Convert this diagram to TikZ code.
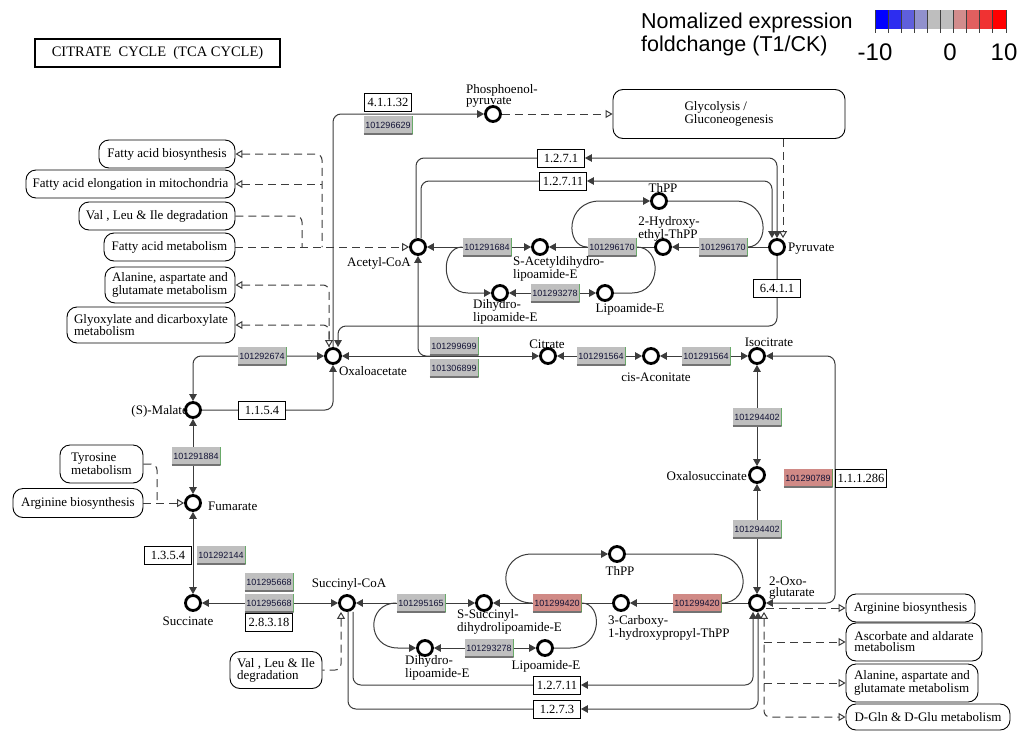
\documentclass[tikz,border=0pt]{standalone}
\usepackage{fontspec}
\setmainfont{Liberation Serif}
\newfontfamily\gsans{Liberation Sans}
\usetikzlibrary{arrows.meta}
\pgfdeclarelayer{bg}
\pgfsetlayers{bg,main}
\definecolor{ggray}{RGB}{191,191,191}
\definecolor{gred}{RGB}{208,138,134}
\definecolor{gtext}{RGB}{20,20,55}
\definecolor{lcol}{RGB}{60,60,60}
\definecolor{gedge}{RGB}{60,160,60}
\newcommand\kf{\fontsize{13}{11}\selectfont}
\newcommand\ef{\fontsize{12.5}{13}\selectfont}
\newcommand\gf{\gsans\fontsize{9}{10}\selectfont}
\tikzset{
  ktri/.tip={Triangle[length=7pt,width=7.5pt]},
  kotri/.tip={Triangle[open,length=7pt,width=8pt,fill=white]},
  cpd/.style={circle,draw=black,line width=2.8pt,fill=white,minimum size=15pt,inner sep=0pt},
  gene/.style={rectangle,fill=ggray,minimum width=49pt,minimum height=18pt,inner sep=0pt,font=\gf,text=gtext,
    path picture={
      \draw[black!55,line width=1.6pt] (path picture bounding box.south west) -- (path picture bounding box.south east);
      \draw[gedge,line width=1.6pt] (path picture bounding box.north east) -- (path picture bounding box.south east);}},
  rgene/.style={gene,fill=gred},
  enz/.style={rectangle,draw=black,line width=0.8pt,fill=white,minimum width=47pt,minimum height=18pt,inner xsep=2pt,inner ysep=0pt,font=\ef},
  pw/.style={rectangle,rounded corners=10pt,draw=black,line width=0.9pt,fill=white,inner sep=0pt,align=left,font=\kf},
  lbl/.style={inner sep=0pt,font=\kf,align=left},
  ln/.style={draw=lcol,line width=1pt},
  dl/.style={draw=lcol,line width=1pt,dash pattern=on 8pt off 5pt},
}
\begin{document}
\begin{tikzpicture}[x=1pt,y=-1pt]
\useasboundingbox (0,0) rectangle (1027,731);
% title
\node[draw=black,line width=1.8pt,minimum width=245pt,minimum height=28pt,inner sep=0pt,font=\fontsize{14.5}{16}\selectfont] (title) at (157.5,53) {CITRATE\ \ CYCLE\ \ (TCA CYCLE)};
% legend
\node[anchor=base west,inner sep=0pt,font=\gsans\fontsize{21.5}{24}\selectfont] (lg1) at (641,28) {Nomalized expression};
\node[anchor=base west,inner sep=0pt,font=\gsans\fontsize{21.5}{24}\selectfont] (lg2) at (641,51) {foldchange (T1/CK)};
\foreach \cR/\cG/\cB [count=\i from 0] in {0/0/255,45/45/240,95/95/220,145/145/205,190/190/190,190/190/190,210/140/140,225/95/95,240/50/50,255/0/0}
  {\definecolor{legc}{RGB}{\cR,\cG,\cB}\fill[legc] (875+13.1*\i,10) rectangle ++(13.1,19);}
\foreach \i in {0,...,10} \draw[black!75,line width=1pt] (875+13.1*\i,10) -- ++(0,23);
\node[anchor=base,inner sep=0pt,font=\gsans\fontsize{24}{26}\selectfont] (lgm) at (875,60) {-10};
\node[anchor=base,inner sep=0pt,font=\gsans\fontsize{24}{26}\selectfont] (lgz) at (950,60) {0};
\node[anchor=base,inner sep=0pt,font=\gsans\fontsize{24}{26}\selectfont] (lgp) at (1004,60) {10};
% compounds
\node[cpd] (pep) at (493,114) {};
\node[cpd] (acoa) at (418,247) {};
\node[cpd] (pyr) at (777,247) {};
\node[cpd] (thpp1) at (659,201) {};
\node[cpd] (het) at (663,247) {};
\node[cpd] (sad) at (540,247) {};
\node[cpd] (dhl1) at (500,293) {};
\node[cpd] (lip1) at (605,293) {};
\node[cpd] (oaa) at (333,356) {};
\node[cpd] (cit) at (548,356) {};
\node[cpd] (cis) at (651,356) {};
\node[cpd] (icit) at (757,356) {};
\node[cpd] (oxs) at (757,475) {};
\node[cpd] (akg) at (757,603) {};
\node[cpd] (thpp2) at (617,554) {};
\node[cpd] (chp) at (621,603) {};
\node[cpd] (ssd) at (484,603) {};
\node[cpd] (dhl2) at (425,648) {};
\node[cpd] (lip2) at (545,648) {};
\node[cpd] (scoa) at (347,603) {};
\node[cpd] (succ) at (193,603) {};
\node[cpd] (fum) at (193,503) {};
\node[cpd] (mal) at (193,410) {};
% compound labels
\node[lbl,anchor=west] (lpep) at (466,96) {Phosphoenol-\\pyruvate};
\node[lbl] (lacoa) at (379,263) {Acetyl-CoA};
\node[lbl,anchor=west] (lpyr) at (788,249) {Pyruvate};
\node[lbl] (lthpp1) at (663,188) {ThPP};
\node[lbl] (lhet) at (669,229) {2-Hydroxy-\\ethyl-ThPP};
\node[lbl,anchor=west] (lsad) at (513,269) {S-Acetyldihydro-\\lipoamide-E};
\node[lbl,anchor=west] (ldhl1) at (473,312) {Dihydro-\\lipoamide-E};
\node[lbl] (llip1) at (630,309) {Lipoamide-E};
\node[lbl] (lcit) at (547,344) {Citrate};
\node[lbl] (lcis) at (656,377) {cis-Aconitate};
\node[lbl] (licit) at (769,342) {Isocitrate};
\node[lbl] (loaa) at (373,371) {Oxaloacetate};
\node[lbl,anchor=east] (lmal) at (188,411) {(S)-Malate};
\node[lbl,anchor=west] (lfum) at (208,506) {Fumarate};
\node[lbl] (lsucc) at (188,621) {Succinate};
\node[lbl] (lscoa) at (349,584) {Succinyl-CoA};
\node[lbl,anchor=west] (lssd) at (457,622) {S-Succinyl-\\dihydrolipoamide-E};
\node[lbl,anchor=west] (ldhl2) at (405,668) {Dihydro-\\lipoamide-E};
\node[lbl] (llip2) at (546,666) {Lipoamide-E};
\node[lbl] (lthpp2) at (620,571) {ThPP};
\node[lbl,anchor=west] (lchp) at (608,628) {3-Carboxy-\\1-hydroxypropyl-ThPP};
\node[lbl,anchor=west] (lakg) at (769,588) {2-Oxo-\\glutarate};
\node[lbl,anchor=east] (loxs) at (747,476) {Oxalosuccinate};
% genes
\node[gene] (g1) at (388,125) {101296629};
\node[gene] (g2) at (487,247) {101291684};
\node[gene] (g3) at (612,247) {101296170};
\node[gene] (g4) at (723,247) {101296170};
\node[gene] (g5) at (555,293) {101293278};
\node[gene] (g6) at (454,346) {101299699};
\node[gene] (g7) at (454,368) {101306899};
\node[gene] (g8) at (601,356) {101291564};
\node[gene] (g9) at (706,356) {101291564};
\node[gene] (g10) at (262,356) {101292674};
\node[gene] (g11) at (757,417) {101294402};
\node[rgene] (g12) at (808,478) {101290789};
\node[gene] (g13) at (196,456) {101291884};
\node[gene] (g14) at (757,529) {101294402};
\node[gene] (g15) at (221,555) {101292144};
\node[gene] (g16) at (269,582) {101295668};
\node[gene] (g17) at (269,603) {101295668};
\node[gene] (g18) at (421,603) {101295165};
\node[rgene] (g19) at (557,603) {101299420};
\node[rgene] (g20) at (697,603) {101299420};
\node[gene] (g21) at (489,648) {101293278};
% enzymes
\node[enz] (e1) at (388,102) {4.1.1.32};
\node[enz] (e2) at (561,158) {1.2.7.1};
\node[enz] (e3) at (563,181) {1.2.7.11};
\node[enz] (e4) at (777,288) {6.4.1.1};
\node[enz] (e5) at (262,410) {1.1.5.4};
\node[enz] (e6) at (861,478) {1.1.1.286};
\node[enz] (e7) at (168,555) {1.3.5.4};
\node[enz] (e8) at (269,622) {2.8.3.18};
\node[enz] (e9) at (557,685) {1.2.7.11};
\node[enz] (e10) at (557,709) {1.2.7.3};
% pathway maps
\node[pw,minimum width=136pt,minimum height=28pt] (fab) at (167,154) {Fatty acid biosynthesis};
\node[pw,minimum width=209pt,minimum height=28pt] (fae) at (130.5,184) {Fatty acid elongation in mitochondria};
\node[pw,minimum width=156pt,minimum height=28pt] (vli1) at (157,216) {Val , Leu \& Ile degradation};
\node[pw,minimum width=131pt,minimum height=28pt] (fam) at (169.5,247) {Fatty acid metabolism};
\node[pw,minimum width=130pt,minimum height=36pt] (alaL) at (170,285) {Alanine, aspartate and\\glutamate metabolism};
\node[pw,minimum width=168pt,minimum height=36pt] (gly) at (151,325) {Glyoxylate and dicarboxylate\\metabolism};
\node[pw,minimum width=83pt,minimum height=38pt] (tyr) at (101.5,464) {Tyrosine\\metabolism};
\node[pw,minimum width=130pt,minimum height=29pt] (argL) at (78,503) {Arginine biosynthesis};
\node[pw,minimum width=92pt,minimum height=37pt] (vli2) at (276,670) {Val , Leu \& Ile\\degradation};
\node[pw,minimum width=232pt,minimum height=49pt] (glyc) at (729,114) {Glycolysis /\\Gluconeogenesis};
\node[pw,minimum width=129pt,minimum height=28pt] (argR) at (910.5,608) {Arginine biosynthesis};
\node[pw,minimum width=136pt,minimum height=38pt] (asc) at (914,642) {Ascorbate and aldarate\\metabolism};
\node[pw,minimum width=132pt,minimum height=38pt] (alaR) at (912,683) {Alanine, aspartate and\\glutamate metabolism};
\node[pw,minimum width=164pt,minimum height=26pt] (dglu) at (928,717) {D-Gln \& D-Glu metabolism};
% helper coordinates
\coordinate (acoaT1) at ([xshift=-2pt]acoa.north);
\coordinate (acoaT2) at ([xshift=3pt]acoa.north);
\coordinate (pyrT1) at (pyr.north);
\coordinate (pyrT2) at ([xshift=-5pt]pyr.north);
\coordinate (pyrT3) at ([xshift=6pt]pyr.north);
\coordinate (oaaT1) at ([xshift=-4pt]oaa.north);
\coordinate (oaaT2) at ([xshift=5pt]oaa.north);
\coordinate (r641) at (777,326);
\coordinate (m1) at (432,356);
\coordinate (faj) at (322,247);
\coordinate (vlj) at (302,247);
\coordinate (tyj) at (157,503);
\coordinate (rr) at (835,480);
\coordinate (scoaB1) at ([xshift=6pt]scoa.south);
\coordinate (scoaB2) at ([xshift=1pt]scoa.south);
\coordinate (scoaB3) at ([xshift=-6pt]scoa.south);
\coordinate (akgB1) at ([xshift=-4pt]akg.south);
\coordinate (akgB2) at ([xshift=1pt]akg.south);
\coordinate (akgB3) at ([xshift=7pt]akg.south);
\begin{pgfonlayer}{bg}
% top
\draw[ln,rounded corners=8pt,-{ktri}] (oaa.north) -- (oaa.north |- pep) -- (pep);
\draw[dl,-{kotri}] (pep) -- (glyc);
\draw[dl,-{kotri}] (pyrT3 |- glyc.south) -- (pyrT3);
\draw[ln,rounded corners=8pt,{ktri}-{ktri}] (acoaT1) |- (e2) -| (pyrT1);
\draw[ln,rounded corners=8pt,{ktri}-{ktri}] (acoaT2) |- (e3) -| (pyrT2);
\draw[ln,rounded corners=8pt,-{ktri}] (pyr.south) -- (r641) -| (oaaT2);
% pyruvate dehydrogenase complex
\draw[ln,{ktri}-{ktri}] (acoa) -- (sad);
\draw[ln,-{ktri}] (het) -- (sad);
\draw[ln,-{ktri}] (pyr) -- (het);
\draw[ln,-{ktri}] (g2.west) .. controls (440,247) and (440,293) .. (468,293) -- (dhl1);
\draw[ln,{ktri}-{ktri}] (dhl1) -- (lip1);
\draw[ln] (lip1) -- (632,293) .. controls (662,293) and (662,247) .. (g3.east);
\draw[ln,-{ktri}] (g3.west) .. controls (565,247) and (565,201) .. (600,201) -- (thpp1);
\draw[ln] (thpp1) -- (735,201) .. controls (770,201) and (770,247) .. (g4.east);
% dashed links at acetyl-CoA and oxaloacetate
\draw[dl,-{kotri}] (fam) -- (acoa);
\draw[dl,{kotri}-,rounded corners=6pt] (fab) -| (faj);
\draw[dl,{kotri}-] (fae) -- (fae -| faj);
\draw[dl,rounded corners=6pt] (vli1) -| (vlj);
\draw[dl,{kotri}-{kotri},rounded corners=6pt] (alaL) -| (oaaT1);
\draw[dl,{kotri}-,rounded corners=6pt] (gly) -| (oaaT1);
% middle row
\draw[ln,{ktri}-{ktri}] (oaa) -- (cit);
\draw[ln,rounded corners=8pt,{ktri}-] (acoa.south) |- (m1);
\draw[ln,{ktri}-{ktri}] (cit) -- (cis);
\draw[ln,{ktri}-{ktri}] (cis) -- (icit);
\draw[ln,rounded corners=8pt,{ktri}-{ktri}] (oaa) -| (mal);
\draw[ln,rounded corners=8pt,-{ktri}] (mal) -| (oaa);
% left column
\draw[ln,{ktri}-{ktri}] (mal) -- (fum);
\draw[ln,{ktri}-{ktri}] (fum) -- (succ);
\draw[ln,{ktri}-{ktri}] (succ) -- (scoa);
\draw[dl,rounded corners=6pt] (tyr) -| (tyj);
\draw[dl,-{kotri}] (argL) -- (fum);
% bottom row
\draw[ln,{ktri}-{ktri}] (scoa) -- (ssd);
\draw[ln,-{ktri}] (chp) -- (ssd);
\draw[ln,-{ktri}] (akg) -- (chp);
\draw[ln,-{ktri}] (g18.west) .. controls (366,603) and (366,648) .. (398,648) -- (dhl2);
\draw[ln,{ktri}-{ktri}] (dhl2) -- (lip2);
\draw[ln] (lip2) -- (570,648) .. controls (603,648) and (603,603) .. (g19.east);
\draw[ln,-{ktri}] (g19.west) .. controls (497,603) and (497,554) .. (532,554) -- (thpp2);
\draw[ln] (thpp2) -- (710,554) .. controls (752,554) and (752,603) .. (g20.east);
\draw[ln,rounded corners=8pt,{ktri}-{ktri}] (scoaB1) |- (e9) -| (akgB1);
\draw[ln,rounded corners=8pt,{ktri}-{ktri}] (scoaB2) |- (e10) -| (akgB2);
\draw[dl,{kotri}-,rounded corners=6pt] (scoaB3) |- (vli2);
% right column
\draw[ln,{ktri}-{ktri}] (icit) -- (oxs);
\draw[ln,{ktri}-{ktri}] (oxs) -- (akg);
\draw[ln,rounded corners=8pt,{ktri}-{ktri}] (icit) -| (rr) |- (akg);
\draw[dl,-{kotri}] (akg.east |- argR) -- (argR);
\draw[dl,{kotri}-{kotri},rounded corners=6pt] (akgB3) |- (dglu);
\draw[dl,-{kotri}] (akgB3 |- asc) -- (asc);
\draw[dl,-{kotri}] (akgB3 |- alaR) -- (alaR);
\end{pgfonlayer}
\end{tikzpicture}
\end{document}
